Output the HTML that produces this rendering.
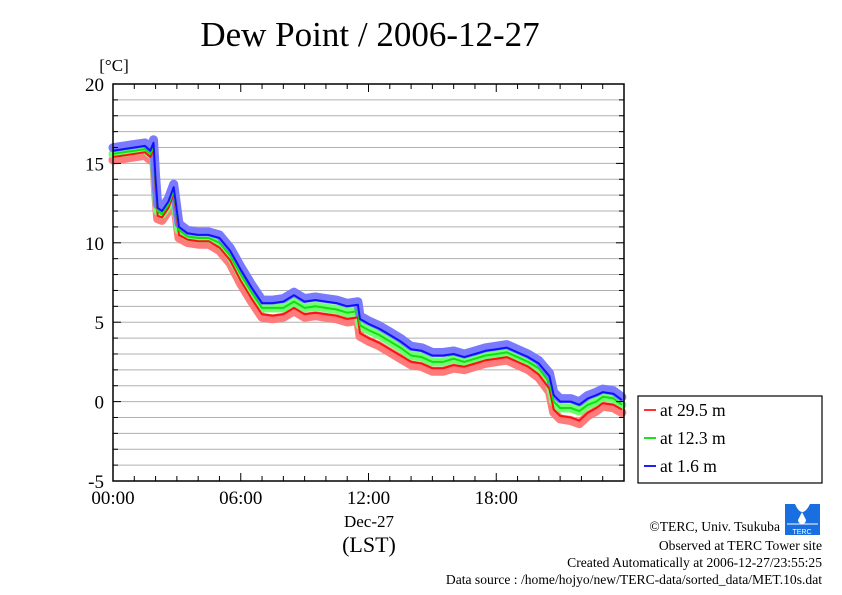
<!DOCTYPE html>
<html><head><meta charset="utf-8">
<style>
html,body{margin:0;padding:0;background:#fff;}
svg{display:block;font-family:"Liberation Serif",serif;}
</style></head>
<body>
<svg id="chart" width="842" height="595" viewBox="0 0 842 595">
  <text x="370" y="46" font-size="35" text-anchor="middle">Dew Point / 2006-12-27</text>
  <text x="114" y="71" font-size="17" text-anchor="middle">[°C]</text>
  <g id="grid"></g>
  <g id="series"></g>
  <rect x="113" y="84" width="511" height="397" fill="none" stroke="#000" stroke-width="1.5"/>
  <g id="axes"></g>
  <text x="369" y="527" font-size="17" text-anchor="middle">Dec-27</text>
  <text x="369" y="552" font-size="22" text-anchor="middle">(LST)</text>
  <g>
    <rect x="638" y="396" width="184" height="87" fill="#fff" stroke="#000" stroke-width="1.2"/>
    <g>
      <line x1="644" y1="410" x2="656" y2="410" stroke="#ff3030" stroke-width="2"/>
      <text x="660" y="416" font-size="17.5">at 29.5 m</text>
    </g>
    <g>
      <line x1="644" y1="438" x2="656" y2="438" stroke="#20e020" stroke-width="2"/>
      <text x="660" y="444" font-size="17.5">at 12.3 m</text>
    </g>
    <g>
      <line x1="644" y1="466" x2="656" y2="466" stroke="#2020ff" stroke-width="2"/>
      <text x="660" y="472" font-size="17.5">at 1.6 m</text>
    </g>
  </g>
  <g>
    <rect x="785" y="504" width="35" height="31" fill="#1a6fe0"/>
    <path d="M795 504 Q802 520 810 504 Z" fill="#fff"/>
    <path d="M802 512 L798 520 A4 4 0 0 0 806 520 Z" fill="#fff"/>
    <line x1="787" y1="524" x2="818" y2="524" stroke="#fff" stroke-width="1"/>
    <text x="802" y="534" font-size="7" fill="#fff" text-anchor="middle" font-family="Liberation Sans,sans-serif">TERC</text>
  </g>
  <g font-size="13.6" text-anchor="end">
    <text x="780" y="531">©TERC, Univ. Tsukuba</text>
    <text x="822" y="550">Observed at TERC Tower site</text>
    <text x="822" y="567">Created Automatically at 2006-12-27/23:55:25</text>
    <text x="822" y="584">Data source : /home/hojyo/new/TERC-data/sorted_data/MET.10s.dat</text>
  </g>
</svg>
<script>
const hours = [0,0.5,1,1.5,1.75,1.9,2.0,2.1,2.3,2.6,2.85,3.1,3.5,4,4.5,5,5.5,6,6.5,7,7.5,8,8.5,9,9.5,10,10.5,11,11.5,11.6,12,12.5,13,13.5,14,14.5,15,15.5,16,16.5,17,17.5,18,18.5,19,19.5,20,20.5,20.7,21,21.5,21.9,22.3,22.7,23,23.5,23.9];
const blue29 = [15.8,15.9,16.0,16.1,15.8,16.3,14.0,12.2,12.0,12.6,13.5,11.0,10.6,10.5,10.5,10.3,9.5,8.3,7.2,6.2,6.2,6.3,6.7,6.3,6.4,6.3,6.2,6.0,6.1,5.2,4.9,4.6,4.2,3.8,3.3,3.2,2.9,2.9,3.0,2.8,3.0,3.2,3.3,3.4,3.1,2.8,2.4,1.6,0.4,0.0,0.0,-0.2,0.2,0.4,0.6,0.5,0.1];
const green12 = [15.6,15.7,15.8,15.9,15.6,16.1,13.7,12.0,11.8,12.4,13.3,10.8,10.4,10.3,10.3,10.0,9.2,8.0,6.9,5.9,5.9,5.9,6.3,5.9,6.0,5.9,5.8,5.6,5.7,4.8,4.5,4.2,3.8,3.4,2.9,2.8,2.5,2.5,2.7,2.5,2.7,2.9,3.0,3.1,2.8,2.5,2.1,1.2,0.0,-0.4,-0.4,-0.6,-0.2,0.0,0.3,0.2,-0.2];
const red29 = [15.4,15.5,15.6,15.7,15.4,15.9,13.4,11.7,11.6,12.2,13.1,10.5,10.2,10.1,10.1,9.7,8.9,7.6,6.5,5.5,5.4,5.5,5.9,5.5,5.6,5.5,5.4,5.2,5.3,4.3,4.0,3.7,3.3,2.9,2.5,2.4,2.1,2.1,2.3,2.2,2.4,2.6,2.7,2.8,2.5,2.2,1.7,0.8,-0.5,-0.9,-1.0,-1.2,-0.7,-0.4,-0.1,-0.2,-0.5];
const yTicks = [-5,0,5,10,15,20];
const xTickLabels = ["00:00","06:00","12:00","18:00"];

const NS="http://www.w3.org/2000/svg";
const X0=113,X1=624,Y0=481,Y1=84;
const xs=h=>X0+(h/24)*(X1-X0);
const ys=v=>Y0-((v+5)/25)*(Y0-Y1);
function mk(tag,attrs,parent){const e=document.createElementNS(NS,tag);for(const k in attrs)e.setAttribute(k,attrs[k]);parent.appendChild(e);return e;}
const grid=document.getElementById('grid'),axes=document.getElementById('axes'),ser=document.getElementById('series');

for(let v=-4;v<20;v++){
  const l=mk('line',{x1:X0,x2:X1,y1:ys(v),y2:ys(v),stroke:'#b0b0b0','stroke-width':1},grid);
  
  
}
yTicks.forEach(v=>{
  const t=mk('text',{x:X0-9,y:ys(v)+7,'font-size':19,'text-anchor':'end'},axes);
  t.textContent=v;
  
  
});
for(let v=-5;v<=20;v++){
  const len=(v%5===0)?8:5;
  mk('line',{x1:X0,x2:X0+len,y1:ys(v),y2:ys(v),stroke:'#000'},axes);
  mk('line',{x1:X1,x2:X1-len,y1:ys(v),y2:ys(v),stroke:'#000'},axes);
}
for(let h=0;h<=24;h++){
  const len=(h%6===0)?8:5;
  mk('line',{x1:xs(h),x2:xs(h),y1:Y0,y2:Y0-len,stroke:'#000'},axes);
  mk('line',{x1:xs(h),x2:xs(h),y1:Y1,y2:Y1+len,stroke:'#000'},axes);
}
xTickLabels.forEach((s,i)=>{
  const t=mk('text',{x:xs(i*6),y:Y0+23,'font-size':19,'text-anchor':'middle'},axes);
  t.textContent=s;
  
  
});
function pathOf(arr){return arr.map((v,i)=>(i?'L':'M')+xs(hours[i]).toFixed(1)+' '+ys(v).toFixed(1)).join(' ');}
const seriesDefs=[[red29,'#ff7a7a','#ff1010','series-29-5m',3],[green12,'#70ff70','#10e010','series-12-3m',0],[blue29,'#7a7aff','#1010ff','series-1-6m',-3]];
seriesDefs.forEach(([arr,light,dark,name,off])=>{
  const b=mk('path',{d:pathOf(arr),fill:'none',stroke:light,'stroke-width':9,'stroke-linejoin':'round','stroke-linecap':'round',transform:'translate(0,'+off+')'},ser);
  
  
});
seriesDefs.forEach(([arr,light,dark,name])=>{
  const p=mk('path',{d:pathOf(arr),fill:'none',stroke:dark,'stroke-width':2,'stroke-linejoin':'round'},ser);
  
  
});
</script>
</body></html>
